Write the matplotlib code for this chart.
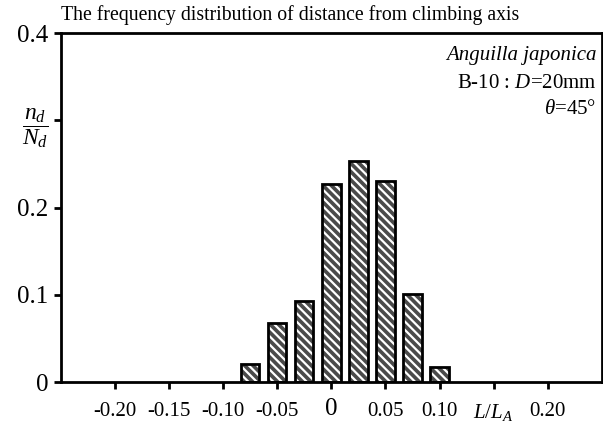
import matplotlib
matplotlib.use('Agg')
import matplotlib.pyplot as plt

plt.rcParams['font.family'] = ['Liberation Serif', 'DejaVu Serif']
plt.rcParams['mathtext.fontset'] = 'custom'
plt.rcParams['mathtext.rm'] = 'Liberation Serif'
plt.rcParams['mathtext.it'] = 'Liberation Serif:italic'
plt.rcParams['hatch.linewidth'] = 1.6

# distance from climbing axis (L/L_A) and relative frequency n_d/N_d
centers = [-0.075, -0.05, -0.025, 0.0, 0.025, 0.05, 0.075, 0.10]
freq = [0.021, 0.068, 0.093, 0.227, 0.254, 0.230, 0.101, 0.017]

xticks = [-0.20, -0.15, -0.10, -0.05, 0.0, 0.05, 0.10, 0.15, 0.20]
xlabels = ['-0.20', '-0.15', '-0.10', '-0.05', '0', '0.05', '0.10', r'$L/L_A$', '0.20']
yticks = [0, 0.1, 0.2, 0.3, 0.4]
ylabels = ['0', '0.1', '0.2', r'$\dfrac{n_d}{N_d}$', '0.4']

fig = plt.figure(figsize=(6.03, 4.25), dpi=100)
ax = fig.add_axes([0.101, 0.101, 0.897, 0.821])

# hatched fill (white stripes on gray), then black outline on top
ax.bar(centers, freq, width=0.017, color='#4a4a4a', edgecolor='white',
       hatch='\\\\\\\\', linewidth=0, zorder=2)
ax.bar(centers, freq, width=0.017, fill=False, edgecolor='black',
       linewidth=2, zorder=3)

ax.set_xlim(-0.25, 0.25)
ax.set_ylim(0, 0.4)
ax.set_xticks(xticks)
ax.set_xticklabels(xlabels, fontsize=15)
ax.set_yticks(yticks)
ax.set_yticklabels(ylabels, fontsize=18)
for lab in ax.get_xticklabels():
    if lab.get_text() == '0':
        lab.set_fontsize(18)
        lab.set_y(0.01)
for lab in ax.get_yticklabels():
    if 'frac' in lab.get_text():
        lab.set_fontsize(17)

ax.tick_params(axis='x', direction='out', length=5, width=2, pad=9)
ax.tick_params(axis='y', direction='out', length=5, width=2, pad=4)
for s in ax.spines.values():
    s.set_linewidth(2)

fig.text(0.101, 0.965, 'The frequency distribution of distance from climbing axis',
         fontsize=14.2, ha='left', va='center')
ax.text(0.99, 0.935, 'Anguilla japonica', transform=ax.transAxes, fontsize=15,
        style='italic', ha='right', va='center')
ax.text(0.99, 0.855, r'B-10 : $D$=20mm', transform=ax.transAxes, fontsize=15,
        ha='right', va='center')
ax.text(0.99, 0.78, r'$\theta$=45$\degree$', transform=ax.transAxes, fontsize=15,
        ha='right', va='center')

fig.savefig('out.png', dpi=100)
